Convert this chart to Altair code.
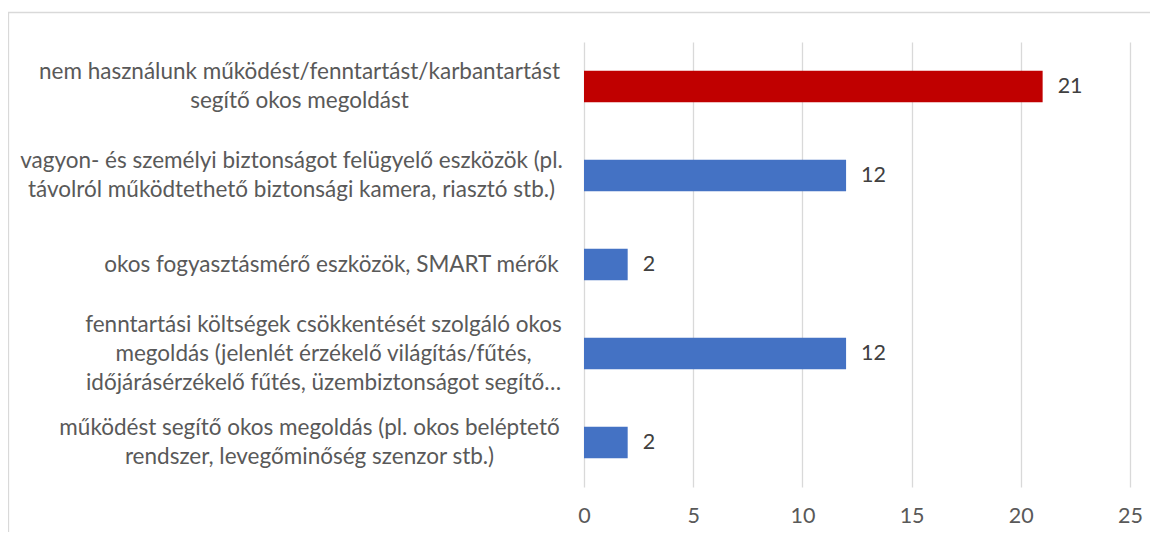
import altair as alt
import pandas as pd

categories = [
    "nem használunk működést/fenntartást/karbantartást|segítő okos megoldást",
    "vagyon- és személyi biztonságot felügyelő eszközök (pl.|távolról működtethető biztonsági kamera, riasztó stb.)",
    "okos fogyasztásmérő eszközök, SMART mérők",
    "fenntartási költségek csökkentését szolgáló okos|megoldás (jelenlét érzékelő világítás/fűtés,|időjárásérzékelő fűtés, üzembiztonságot segítő…",
    "működést segítő okos megoldás (pl. okos beléptető|rendszer, levegőminőség szenzor stb.)",
]
values = [21, 12, 2, 12, 2]
groups = ["nincs", "van", "van", "van", "van"]
x_ticks = [0, 5, 10, 15, 20, 25]

# label block centre distance from the value axis (styling)
label_keys = ["nem", "vagyon", "okos", "fenntartási", "működést"]
label_center_pad = [285, 293, 253, 261, 275]

df = pd.DataFrame({"cat": categories, "value": values, "group": groups})

FONT = "Lato"
FS_CAT = 22.5
FS_NUM = 21.5
LINE_H = 29

pad_cond = [
    {"test": f"indexof(datum.value, '{k}') == 0", "value": p}
    for k, p in zip(label_keys, label_center_pad)
]
off_cond = [
    {"test": "length(split(datum.value, '|')) == 3", "value": -LINE_H},
    {"test": "length(split(datum.value, '|')) == 2", "value": -LINE_H / 2},
]

base = alt.Chart(df)

y_enc = alt.Y(
    "cat:N",
    sort=categories,
    scale=alt.Scale(paddingInner=0.645, paddingOuter=0.3225),
    axis=alt.Axis(
        title=None,
        labelExpr="split(datum.label, '|')",
        labelFont=FONT,
        labelFontSize=FS_CAT,
        labelColor="#595959",
        labelAlign="center",
        labelPadding={"condition": pad_cond, "value": 26},
        labelOffset={"condition": off_cond, "value": 0},
        labelLineHeight=LINE_H,
        labelLimit=0,
        ticks=False,
        domain=False,
        grid=False,
    ),
)

x_enc = alt.X(
    "value:Q",
    scale=alt.Scale(domain=[0, 25], nice=False),
    axis=alt.Axis(
        title=None,
        values=x_ticks,
        grid=True,
        gridColor="#d9d9d9",
        gridWidth=1.3,
        domain=False,
        ticks=False,
        labelPadding=18,
        labelFont=FONT,
        labelFontSize=FS_NUM,
        labelColor="#595959",
        labelFlush=False,
    ),
)

bars = base.mark_bar().encode(
    x=x_enc,
    y=y_enc,
    color=alt.Color(
        "group:N",
        scale=alt.Scale(domain=["nincs", "van"], range=["#C00000", "#4472C4"]),
        legend=None,
    ),
)

labels = base.mark_text(
    align="left", baseline="middle", dx=15, font=FONT, fontSize=FS_NUM, color="#404040"
).encode(
    x="value:Q",
    y=alt.Y("cat:N", sort=categories),
    text="value:Q",
)

frame = alt.Chart(pd.DataFrame({"f": [0]})).mark_rect(
    fillOpacity=0, stroke="#d9d9d9", strokeWidth=1.3
).encode(
    x=alt.value(-575.5), x2=alt.value(800), y=alt.value(-29.5), y2=alt.value(700)
)

chart = (
    alt.layer(frame, bars, labels)
    .properties(
        width=546,
        height=445,
        autosize=alt.AutoSizeParams(type="none"),
        padding={"left": 576, "top": 34, "right": 20, "bottom": 45},
        background="white",
    )
    .configure_view(strokeWidth=0)
)

chart.save("out.html", embed_options={"renderer": "svg", "actions": False})
